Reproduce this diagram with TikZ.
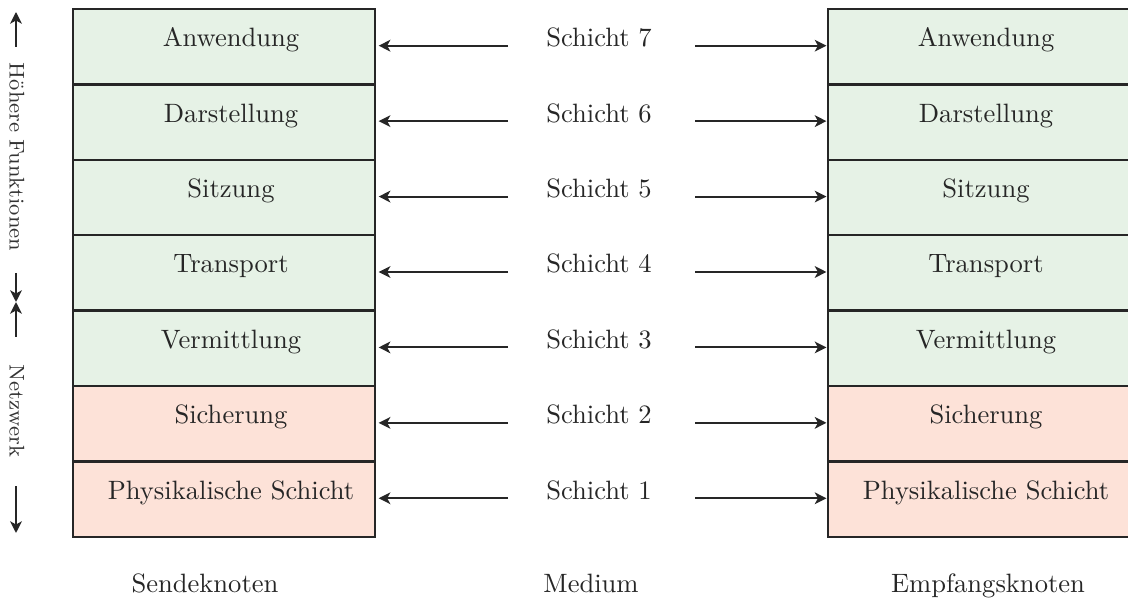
\documentclass[tikz,border=0pt]{standalone}
\usetikzlibrary{arrows.meta}
\definecolor{upperlayer}{RGB}{230,242,230}
\definecolor{lowerlayer}{RGB}{253,226,216}
\begin{document}
\begin{tikzpicture}[x=0.3766pt,y=-0.3766pt,
  layer/.style={draw=black!85,line width=0.9pt,minimum width=113.7pt,
    minimum height=28.4pt,inner sep=0pt,outer sep=0pt},
  lbl/.style={anchor=base,inner sep=0pt,text=black!85},
  conn/.style={-{Stealth[length=4.4pt,width=4.4pt,inset=1.2pt]},line width=0.75pt,draw=black!85},
  side/.style={rotate=-90,inner sep=0pt,text=black!80,font=\footnotesize},
]
\useasboundingbox (0,0) rectangle (1128,601);

% protocol stacks of both nodes with the medium in between
\foreach \txt/\col [count=\i from 0, evaluate=\i as \yc using 9+75.43*\i+37.7,
    evaluate=\i as \k using int(7-\i)] in
  {Anwendung/upperlayer, Darstellung/upperlayer, Sitzung/upperlayer,
   Transport/upperlayer, Vermittlung/upperlayer, Sicherung/lowerlayer,
   Physikalische Schicht/lowerlayer} {
  \node[layer,fill=\col] (L\i) at (224,\yc) {};
  \node[layer,fill=\col] (R\i) at (979,\yc) {};
  \node[lbl] (Lt\i) at (231,\yc) {\txt};
  \node[lbl] (Rt\i) at (986,\yc) {\txt};
  \node[lbl] (S\i) at (599,\yc) {Schicht \k};
  \coordinate (al\i) at (508,\yc-1);
  \coordinate (ar\i) at (695,\yc-1);
  \draw[conn] (al\i) -- ([xshift=1.4pt]L\i.east |- al\i);
  \draw[conn] (ar\i) -- ([xshift=-0.6pt]R\i.west |- ar\i);
}

% captions below
\node[lbl] (snd) at (205,592) {Sendeknoten};
\node[lbl] (med) at (591,592) {Medium};
\node[lbl] (rcv) at (988,592) {Empfangsknoten};

% side axis
\coordinate (a1) at (16,47);
\coordinate (a1t) at (16,12);
\coordinate (a2) at (16,273);
\coordinate (mid) at (16,302);
\coordinate (a3) at (16,337);
\coordinate (a4) at (16,486);
\coordinate (a4t) at (16,533);
\draw[conn] (a1) -- (a1t);
\node[side] (hf) at (17,157) {Höhere Funktionen};
\draw[conn] (a2) -- (mid);
\draw[conn] (a3) -- (mid);
\node[side] (nw) at (17,411) {Netzwerk};
\draw[conn] (a4) -- (a4t);
\end{tikzpicture}
\end{document}
